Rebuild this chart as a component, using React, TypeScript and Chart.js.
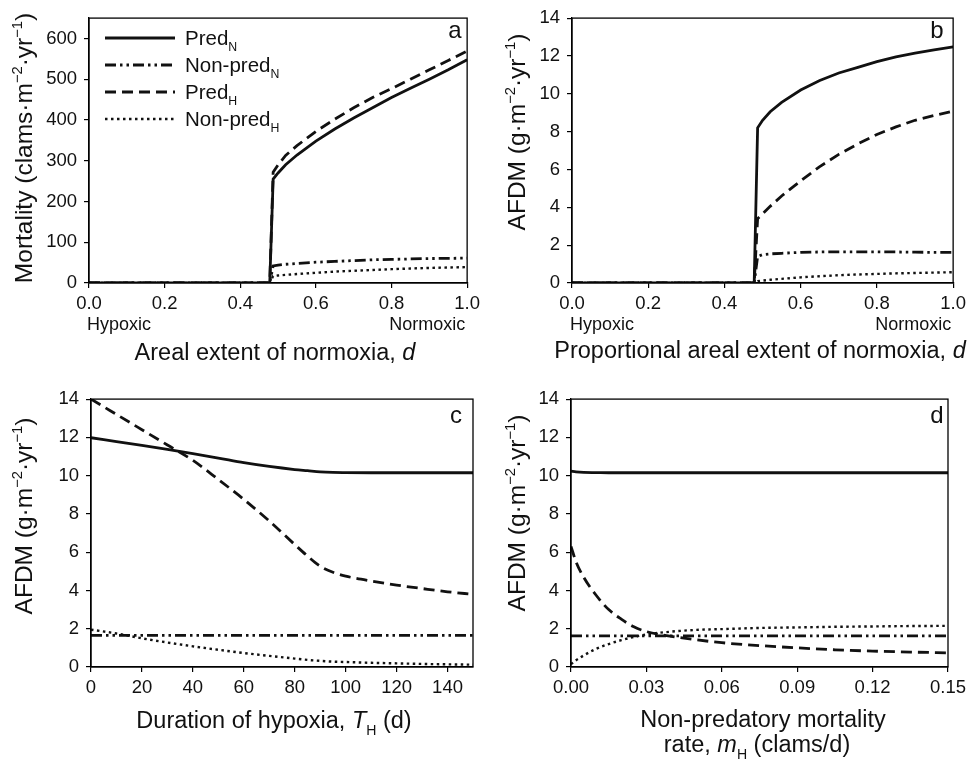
import React, { useEffect, useRef } from 'react';
import { Chart, registerables } from 'chart.js';
Chart.register(...registerables);

// ---------- DATA ----------
// Panel a: mortality vs areal extent of normoxia
const A_X = [0, 0.2, 0.4, 0.478, 0.487, 0.5, 0.52, 0.55, 0.6, 0.65, 0.7, 0.75, 0.8, 0.85, 0.9, 0.95, 1.0];
const A_PRED_N = [0, 0, 0, 0, 255, 270, 290, 314, 348, 378, 405, 430, 455, 478, 500, 523, 548];
const A_NONPRED_N = [0, 0, 0, 0, 42, 44, 46, 48, 51, 53, 55, 57, 58, 59, 60, 60.5, 61];
const A_PRED_H = [0, 0, 0, 0, 272, 290, 313, 337, 372, 402, 430, 455, 477, 500, 523, 546, 569];
const A_NONPRED_H = [0, 0, 0, 0, 17, 18.5, 20, 22, 25, 28, 30, 32, 34, 35.5, 37, 38, 39];
const A_X_TICKS = [0, 0.2, 0.4, 0.6, 0.8, 1.0];
const A_Y_TICKS = [0, 100, 200, 300, 400, 500, 600];

// Panel b: AFDM vs proportional areal extent of normoxia
const B_X = [0, 0.2, 0.4, 0.478, 0.487, 0.5, 0.52, 0.55, 0.6, 0.65, 0.7, 0.75, 0.8, 0.85, 0.9, 0.95, 1.0];
const B_PRED_N = [0, 0, 0, 0, 8.2, 8.6, 9.05, 9.55, 10.2, 10.7, 11.1, 11.4, 11.7, 11.95, 12.15, 12.32, 12.48];
const B_NONPRED_N = [0, 0, 0, 0, 1.4, 1.5, 1.54, 1.57, 1.62, 1.64, 1.65, 1.65, 1.65, 1.64, 1.63, 1.62, 1.62];
const B_PRED_H = [0, 0, 0, 0, 3.4, 3.65, 4.05, 4.6, 5.4, 6.15, 6.8, 7.35, 7.85, 8.25, 8.6, 8.85, 9.08];
const B_NONPRED_H = [0, 0, 0, 0, 0.1, 0.13, 0.17, 0.22, 0.3, 0.36, 0.41, 0.45, 0.48, 0.51, 0.53, 0.55, 0.57];
const B_X_TICKS = [0, 0.2, 0.4, 0.6, 0.8, 1.0];
const B_Y_TICKS = [0, 2, 4, 6, 8, 10, 12, 14];

// Panel c: AFDM vs duration of hypoxia
const C_X = [0, 10, 20, 30, 40, 50, 60, 70, 80, 85, 90, 95, 100, 110, 120, 130, 140, 150];
const C_PRED_N = [11.98, 11.78, 11.58, 11.37, 11.15, 10.92, 10.68, 10.48, 10.32, 10.26, 10.2, 10.17, 10.16, 10.15, 10.15, 10.15, 10.15, 10.15];
const C_NONPRED_N = [1.65, 1.65, 1.65, 1.65, 1.65, 1.65, 1.65, 1.65, 1.65, 1.65, 1.65, 1.65, 1.65, 1.65, 1.65, 1.65, 1.65, 1.65];
const C_PRED_H = [14.0, 13.2, 12.4, 11.6, 10.8, 9.8, 8.76, 7.63, 6.4, 5.8, 5.27, 4.95, 4.75, 4.49, 4.28, 4.1, 3.93, 3.8];
const C_NONPRED_H = [1.95, 1.75, 1.5, 1.28, 1.08, 0.9, 0.73, 0.58, 0.44, 0.37, 0.32, 0.28, 0.26, 0.22, 0.19, 0.16, 0.14, 0.12];
const C_X_TICKS = [0, 20, 40, 60, 80, 100, 120, 140];
const C_Y_TICKS = [0, 2, 4, 6, 8, 10, 12, 14];

// Panel d: AFDM vs non-predatory mortality rate
const D_X = [0, 0.002, 0.005, 0.01, 0.015, 0.02, 0.025, 0.03, 0.04, 0.05, 0.06, 0.075, 0.09, 0.105, 0.12, 0.135, 0.15];
const D_PRED_N = [10.24, 10.2, 10.17, 10.16, 10.15, 10.15, 10.15, 10.15, 10.15, 10.15, 10.15, 10.15, 10.15, 10.15, 10.15, 10.15, 10.15];
const D_NONPRED_N = [1.63, 1.63, 1.63, 1.63, 1.63, 1.63, 1.63, 1.63, 1.63, 1.63, 1.63, 1.63, 1.63, 1.63, 1.63, 1.63, 1.63];
const D_PRED_H = [6.3, 5.5, 4.7, 3.75, 3.0, 2.5, 2.1, 1.85, 1.6, 1.42, 1.27, 1.12, 1.0, 0.9, 0.83, 0.78, 0.74];
const D_NONPRED_H = [0.15, 0.35, 0.6, 0.95, 1.2, 1.4, 1.57, 1.7, 1.85, 1.94, 1.98, 2.04, 2.07, 2.1, 2.12, 2.14, 2.15];
const D_X_TICKS = [0, 0.03, 0.06, 0.09, 0.12, 0.15];
const D_Y_TICKS = [0, 2, 4, 6, 8, 10, 12, 14];

// ---------- STYLE ----------
const FONT = '"Liberation Sans", Arial, Helvetica, sans-serif';
const INK = '#111';
const LW = 2.8;
const DASH_SOLID: number[] = [];
const DASH_DASHED = [11, 6];
const DASH_DASHDOT = [11, 4, 2.5, 4, 2.5, 4];
const DASH_DOTTED = [2.5, 3.5];
const TICK_SIZE = 18.5;
const TITLE_SIZE = 23.5;

type Seg = { t: string; sup?: boolean; sub?: boolean; it?: boolean };

function segFont(s: Seg, size: number) {
  const sz = s.sup || s.sub ? size * 0.6 : size;
  return `${s.it ? 'italic ' : ''}${sz}px ${FONT}`;
}
function measureRich(ctx: CanvasRenderingContext2D, segs: Seg[], size: number) {
  let w = 0;
  for (const s of segs) {
    ctx.font = segFont(s, size);
    w += ctx.measureText(s.t).width;
  }
  return w;
}
function drawRich(ctx: CanvasRenderingContext2D, segs: Seg[], size: number, x: number, y: number, align: 'left' | 'center' | 'right') {
  const w = measureRich(ctx, segs, size);
  let cx = align === 'center' ? x - w / 2 : align === 'right' ? x - w : x;
  ctx.textAlign = 'left';
  ctx.textBaseline = 'alphabetic';
  for (const s of segs) {
    ctx.font = segFont(s, size);
    const dy = s.sup ? -size * 0.42 : s.sub ? size * 0.28 : 0;
    ctx.fillText(s.t, cx, y + dy);
    cx += ctx.measureText(s.t).width;
  }
}

const Y_TITLE_MORT: Seg[] = [{ t: 'Mortality (clams·m' }, { t: '−2', sup: true }, { t: '·yr' }, { t: '−1', sup: true }, { t: ')' }];
const Y_TITLE_AFDM: Seg[] = [{ t: 'AFDM (g·m' }, { t: '−2', sup: true }, { t: '·yr' }, { t: '−1', sup: true }, { t: ')' }];

type PanelCfg = {
  w: number; h: number;
  left: number; right: number; top: number; bottom: number;
  xMin: number; xMax: number; yMin: number; yMax: number;
  xTicks: number[]; yTicks: number[];
  xFmt: (v: number) => string;
  xs: number[];
  smooth: boolean;
  series: { data: number[]; dash: number[]; width: number }[];
  letter: string; letterX: number; letterY: number;
  yTitle: Seg[]; yTitleX: number; yTitleY: number;
  xTitleLines: { segs: Seg[]; x: number; y: number }[];
  endLabels: boolean;
  legend: boolean;
};

const LEGEND_ITEMS: { name: string; sub: string; dash: number[]; width: number }[] = [
  { name: 'Pred', sub: 'N', dash: DASH_SOLID, width: LW },
  { name: 'Non-pred', sub: 'N', dash: DASH_DASHDOT, width: LW },
  { name: 'Pred', sub: 'H', dash: DASH_DASHED, width: LW },
  { name: 'Non-pred', sub: 'H', dash: DASH_DOTTED, width: 2.4 },
];

function mkSeries(pn: number[], npn: number[], ph: number[], nph: number[]) {
  return [
    { data: nph, dash: DASH_DOTTED, width: 2.4 },
    { data: npn, dash: DASH_DASHDOT, width: LW },
    { data: ph, dash: DASH_DASHED, width: LW },
    { data: pn, dash: DASH_SOLID, width: LW },
  ];
}

const PANELS: (PanelCfg & { px: number; py: number })[] = [
  {
    px: 0, py: 0, w: 485, h: 381,
    left: 89, right: 473, top: 15, bottom: 283,
    xMin: 0, xMax: 1, yMin: 0, yMax: 650,
    xTicks: A_X_TICKS, yTicks: A_Y_TICKS, xFmt: v => v.toFixed(1),
    xs: A_X, smooth: false, series: mkSeries(A_PRED_N, A_NONPRED_N, A_PRED_H, A_NONPRED_H),
    letter: 'a', letterX: 455, letterY: 38,
    yTitle: Y_TITLE_MORT, yTitleX: 32, yTitleY: 148,
    xTitleLines: [{ segs: [{ t: 'Areal extent of normoxia, ' }, { t: 'd', it: true }], x: 275, y: 360 }],
    endLabels: true, legend: true,
  },
  {
    px: 485, py: 0, w: 486, h: 381,
    left: 87, right: 469, top: 16, bottom: 283,
    xMin: 0, xMax: 1, yMin: 0, yMax: 14,
    xTicks: B_X_TICKS, yTicks: B_Y_TICKS, xFmt: v => v.toFixed(1),
    xs: B_X, smooth: false, series: mkSeries(B_PRED_N, B_NONPRED_N, B_PRED_H, B_NONPRED_H),
    letter: 'b', letterX: 452, letterY: 38,
    yTitle: Y_TITLE_AFDM, yTitleX: 40, yTitleY: 132,
    xTitleLines: [{ segs: [{ t: 'Proportional areal extent of normoxia, ' }, { t: 'd', it: true }], x: 275, y: 358 }],
    endLabels: true, legend: false,
  },
  {
    px: 0, py: 381, w: 485, h: 381,
    left: 91, right: 473, top: 18, bottom: 286,
    xMin: 0, xMax: 150, yMin: 0, yMax: 14,
    xTicks: C_X_TICKS, yTicks: C_Y_TICKS, xFmt: v => String(Math.round(v)),
    xs: C_X, smooth: true, series: mkSeries(C_PRED_N, C_NONPRED_N, C_PRED_H, C_NONPRED_H),
    letter: 'c', letterX: 456, letterY: 42,
    yTitle: Y_TITLE_AFDM, yTitleX: 32, yTitleY: 135,
    xTitleLines: [{ segs: [{ t: 'Duration of hypoxia, ' }, { t: 'T', it: true }, { t: 'H', sub: true }, { t: ' (d)' }], x: 274, y: 347 }],
    endLabels: false, legend: false,
  },
  {
    px: 485, py: 381, w: 486, h: 381,
    left: 86, right: 468, top: 18, bottom: 286,
    xMin: 0, xMax: 0.15, yMin: 0, yMax: 14,
    xTicks: D_X_TICKS, yTicks: D_Y_TICKS, xFmt: v => v.toFixed(2),
    xs: D_X, smooth: true, series: mkSeries(D_PRED_N, D_NONPRED_N, D_PRED_H, D_NONPRED_H),
    letter: 'd', letterX: 452, letterY: 42,
    yTitle: Y_TITLE_AFDM, yTitleX: 40, yTitleY: 132,
    xTitleLines: [
      { segs: [{ t: 'Non-predatory mortality' }], x: 278, y: 346 },
      { segs: [{ t: 'rate, ' }, { t: 'm', it: true }, { t: 'H', sub: true }, { t: ' (clams/d)' }], x: 272, y: 371 },
    ],
    endLabels: false, legend: false,
  },
];

function Panel({ cfg }: { cfg: PanelCfg & { px: number; py: number } }) {
  const ref = useRef<HTMLCanvasElement | null>(null);
  useEffect(() => {
    const canvas = ref.current;
    if (!canvas) return;
    const deco = {
      id: 'deco' + cfg.letter,
      afterDraw(chart: any) {
        const ctx: CanvasRenderingContext2D = chart.ctx;
        const ca = chart.chartArea;
        ctx.save();
        ctx.strokeStyle = '#000';
        ctx.lineWidth = 1.3;
        ctx.setLineDash([]);
        ctx.strokeRect(ca.left, ca.top, ca.right - ca.left, ca.bottom - ca.top);
        ctx.fillStyle = INK;
        ctx.font = `24px ${FONT}`;
        ctx.textAlign = 'center';
        ctx.textBaseline = 'alphabetic';
        ctx.fillText(cfg.letter, cfg.letterX, cfg.letterY);
        if (cfg.endLabels) {
          ctx.font = `18px ${FONT}`;
          ctx.textAlign = 'left';
          ctx.fillText('Hypoxic', ca.left - 2, 330);
          ctx.textAlign = 'right';
          ctx.fillText('Normoxic', ca.right - 2, 330);
        }
        for (const ln of cfg.xTitleLines) drawRich(ctx, ln.segs, TITLE_SIZE, ln.x, ln.y, 'center');
        ctx.save();
        ctx.translate(cfg.yTitleX, cfg.yTitleY);
        ctx.rotate(-Math.PI / 2);
        drawRich(ctx, cfg.yTitle, 24.5, 0, 0, 'center');
        ctx.restore();
        if (cfg.legend) {
          LEGEND_ITEMS.forEach((it, i) => {
            const cy = 38 + i * 27;
            ctx.strokeStyle = INK;
            ctx.lineWidth = it.width;
            ctx.lineCap = 'butt';
            ctx.setLineDash(it.dash);
            ctx.beginPath();
            ctx.moveTo(105, cy);
            ctx.lineTo(175, cy);
            ctx.stroke();
            ctx.setLineDash([]);
            drawRich(ctx, [{ t: it.name }, { t: it.sub, sub: true }], 20.5, 185, cy + 7, 'left');
          });
        }
        ctx.restore();
      },
    };
    const gridOpts = { display: true, drawOnChartArea: false, drawTicks: true, tickLength: 5, color: '#000', lineWidth: 1.2 };
    const chart = new Chart(canvas, {
      type: 'line',
      data: {
        datasets: cfg.series.map(s => ({
          data: cfg.xs.map((x, i) => ({ x, y: s.data[i] })),
          borderColor: INK,
          borderWidth: s.width,
          borderDash: s.dash,
          pointRadius: 0,
          fill: false,
          tension: 0,
          cubicInterpolationMode: cfg.smooth ? ('monotone' as const) : ('default' as const),
        })),
      },
      options: {
        responsive: false,
        animation: false,
        devicePixelRatio: 1,
        layout: { padding: { top: cfg.top, right: cfg.w - cfg.right, left: 0, bottom: 0 } },
        plugins: { legend: { display: false }, tooltip: { enabled: false } },
        scales: {
          x: {
            type: 'linear',
            min: cfg.xMin,
            max: cfg.xMax,
            afterBuildTicks: (s: any) => { s.ticks = cfg.xTicks.map(v => ({ value: v })); },
            afterFit: (s: any) => { s.height = cfg.h - cfg.bottom; },
            ticks: {
              autoSkip: false, maxRotation: 0, padding: 5, color: INK,
              font: { family: FONT, size: TICK_SIZE },
              callback: (v: any) => cfg.xFmt(Number(v)),
            },
            grid: gridOpts,
            border: { display: true, color: '#000', width: 1.3 },
          },
          y: {
            type: 'linear',
            min: cfg.yMin,
            max: cfg.yMax,
            afterBuildTicks: (s: any) => { s.ticks = cfg.yTicks.map(v => ({ value: v })); },
            afterFit: (s: any) => { s.width = cfg.left; },
            ticks: {
              autoSkip: false, padding: 7, color: INK,
              font: { family: FONT, size: TICK_SIZE },
              callback: (v: any) => String(Math.round(Number(v))),
            },
            grid: gridOpts,
            border: { display: true, color: '#000', width: 1.3 },
          },
        },
      },
      plugins: [deco],
    } as any);
    return () => chart.destroy();
  }, [cfg]);
  return (
    <canvas
      ref={ref}
      width={cfg.w}
      height={cfg.h}
      style={{ position: 'absolute', left: cfg.px, top: cfg.py, width: cfg.w, height: cfg.h, display: 'block' }}
    />
  );
}

export default function App() {
  return (
    <div style={{ position: 'fixed', left: 0, top: 0, width: 971, height: 762, background: '#fff', overflow: 'hidden' }}>
      {PANELS.map(p => <Panel key={p.letter} cfg={p} />)}
    </div>
  );
}
